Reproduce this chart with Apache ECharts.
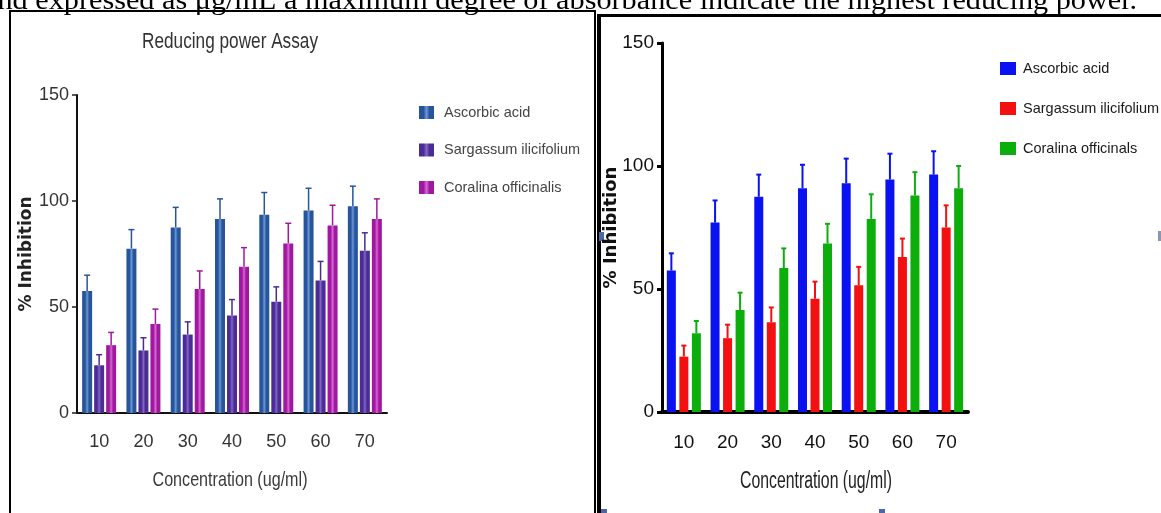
<!DOCTYPE html>
<html><head><meta charset="utf-8">
<script src="https://cdn.jsdelivr.net/npm/echarts@6/dist/echarts.min.js"></script>
<style>html,body{margin:0;padding:0;background:#fff;overflow:hidden}#c{width:1161px;height:513px}</style>
</head><body><div id="c"></div>
<script>
// ---- data ----
const categories = ['10', '20', '30', '40', '50', '60', '70'];
const yTicks = [0, 50, 100, 150];
const titleLeft = 'Reducing power Assay';
const xName = 'Concentration (ug/ml)';
const yName = '% Inhibition';
const legendLeft = ['Ascorbic acid', 'Sargassum ilicifolium', 'Coralina officinalis'];
const legendRight = ['Ascorbic acid', 'Sargassum ilicifolium', 'Coralina officinals'];
const topText = 'and expressed as \u03bcg/mL a maximum degree of absorbance indicate the highest reducing power.';

// left panel
const ascorbicL = [57.5, 77.5, 87.5, 91.5, 93.5, 95.5, 97.5];
const ascorbicErrL = [7.5, 9, 9.5, 9.5, 10.5, 10.5, 9.5];
const sargassumL = [22.5, 29.5, 37, 46, 52.5, 62.5, 76.5];
const sargassumErrL = [5, 6, 6, 7.5, 7, 9, 8.5];
const coralinaL = [32, 42, 58.5, 69, 80, 88.5, 91.5];
const coralinaErrL = [6, 7, 8.5, 9, 9.5, 9.5, 9.5];
// right panel
const ascorbicR = [57.5, 77, 87.5, 91, 93, 94.5, 96.5];
const ascorbicErrR = [7, 9, 9, 9.5, 10, 10.5, 9.5];
const sargassumR = [22.5, 30, 36.5, 46, 51.5, 63, 75];
const sargassumErrR = [4.5, 5.5, 6, 7, 7.5, 7.5, 9];
const coralinaR = [32, 41.5, 58.5, 68.5, 78.5, 88, 91];
const coralinaErrR = [5, 7, 8, 8, 10, 9.5, 9];

// ---- styles ----
const SANS = "'Liberation Sans', Arial, sans-serif";
const mctx = document.createElement('canvas').getContext('2d');
function fitScale(text, font, target) { mctx.font = font; return target / mctx.measureText(text).width; }

const grad = (d, l) => new echarts.graphic.LinearGradient(0, 0, 1, 0, [
  {offset: 0, color: d}, {offset: 0.3, color: d}, {offset: 0.5, color: l}, {offset: 0.7, color: d}, {offset: 1, color: d}]);
const leftColors = [['#27549a', '#6a98d4'], ['#4b2b96', '#8466c4'], ['#a0189f', '#d468d2']];
const rightColors = ['#0a12f2', '#f21010', '#0cae0c'];

function errRender(offset, color, lw, capW) {
  return function (params, api) {
    const x = api.value(0), v = api.value(1), e = api.value(2);
    const base = api.coord([x, v]);
    const top = api.coord([x, v + e]);
    const cx = base[0] + offset;
    return {type: 'group', children: [
      {type: 'line', shape: {x1: cx, y1: base[1], x2: cx, y2: top[1]}, style: {stroke: color, lineWidth: lw}},
      {type: 'line', shape: {x1: cx - capW / 2, y1: top[1], x2: cx + capW / 2, y2: top[1]}, style: {stroke: color, lineWidth: lw}}
    ]};
  };
}
const errData = (vals, errs) => vals.map((v, i) => [i, v, errs[i]]);

const leftVals = [[ascorbicL, ascorbicErrL], [sargassumL, sargassumErrL], [coralinaL, coralinaErrL]];
const rightVals = [[ascorbicR, ascorbicErrR], [sargassumR, sargassumErrR], [coralinaR, coralinaErrR]];
const leftOff = [-12, 0, 12];
const rightOff = [-12.5, 0, 12.5];

const series = [];
leftVals.forEach((p, k) => {
  series.push({type: 'bar', name: legendLeft[k], xAxisIndex: 0, yAxisIndex: 0, data: p[0],
    barWidth: 10, barGap: '20%', itemStyle: {color: grad(leftColors[k][0], leftColors[k][1])}, z: 2});
});
leftVals.forEach((p, k) => {
  series.push({type: 'custom', xAxisIndex: 0, yAxisIndex: 0, data: errData(p[0], p[1]),
    encode: {x: 0, y: 1}, renderItem: errRender(leftOff[k], leftColors[k][0], 1.5, 6), z: 3});
});
rightVals.forEach((p, k) => {
  series.push({type: 'bar', name: legendRight[k] + ' ', xAxisIndex: 1, yAxisIndex: 1, data: p[0],
    barWidth: 9, barGap: '39%', itemStyle: {color: rightColors[k]}, z: 2});
});
rightVals.forEach((p, k) => {
  series.push({type: 'custom', xAxisIndex: 1, yAxisIndex: 1, data: errData(p[0], p[1]),
    encode: {x: 0, y: 1}, renderItem: errRender(rightOff[k], rightColors[k], 2, 5), z: 3});
});

const ts = (size, color, extra) => Object.assign({fontFamily: SANS, fontSize: size, color: color}, extra || {});

const fTitle = "22px 'Liberation Sans'";
const fNameL = "21px 'Liberation Sans'";
const fNameR = "23px 'Liberation Sans'";

const chart = echarts.init(document.getElementById('c'), null, {renderer: 'canvas'});
chart.setOption({
  animation: false,
  backgroundColor: '#fff',
  grid: [
    {left: 77, top: 95, width: 310, height: 318},
    {left: 662, top: 43, width: 306, height: 369}
  ],
  xAxis: [
    {gridIndex: 0, type: 'category', data: categories,
      axisLine: {lineStyle: {color: '#111', width: 2}},
      axisTick: {alignWithLabel: true, length: 5, lineStyle: {color: '#222', width: 1.5}},
      axisLabel: ts(18, '#333', {margin: 20})},
    {gridIndex: 1, type: 'category', data: categories,
      axisLine: {lineStyle: {color: '#000', width: 4}},
      axisTick: {alignWithLabel: true, length: 8, lineStyle: {color: '#000', width: 3}},
      axisLabel: ts(19, '#111', {margin: 21})}
  ],
  yAxis: [
    {gridIndex: 0, type: 'value', min: yTicks[0], max: yTicks[yTicks.length - 1], interval: 50,
      axisLine: {show: true, lineStyle: {color: '#111', width: 2}},
      axisTick: {show: true, length: 5, lineStyle: {color: '#222', width: 1.5}},
      splitLine: {show: false},
      axisLabel: ts(18, '#333', {margin: 8}),
      name: yName, nameLocation: 'middle', nameRotate: 90, nameGap: 42, nameMoveOverlap: false,
      nameTextStyle: {fontFamily: "'DejaVu Sans',sans-serif", fontWeight: 'bold', fontSize: 17, color: '#222'}},
    {gridIndex: 1, type: 'value', min: yTicks[0], max: yTicks[yTicks.length - 1], interval: 50,
      axisLine: {show: true, lineStyle: {color: '#000', width: 3}},
      axisTick: {show: true, length: 5, lineStyle: {color: '#000', width: 3}},
      splitLine: {show: false},
      axisLabel: ts(19, '#111', {margin: 8}),
      name: yName, nameLocation: 'middle', nameRotate: 90, nameGap: 42, nameMoveOverlap: false,
      nameTextStyle: {fontFamily: "'DejaVu Sans',sans-serif", fontWeight: 'bold', fontSize: 18, color: '#111'}}
  ],
  legend: [
    {data: legendLeft, orient: 'vertical', left: 414, top: 100, icon: 'rect',
      itemWidth: 15, itemHeight: 13, itemGap: 22.5, selectedMode: false,
      textStyle: ts(14.5, '#444', {padding: [0, 0, 0, 5]})},
    {data: legendRight.map(n => n + ' '), orient: 'vertical', left: 995, top: 56, icon: 'rect',
      itemWidth: 16, itemHeight: 13, itemGap: 25, selectedMode: false,
      formatter: n => n.trim(),
      textStyle: ts(14.5, '#1a1a1a', {padding: [0, 0, 0, 2]})}
  ],
  series: series,
  graphic: [
    {type: 'text', x: -16, y: 2, scaleX: 1.12, silent: true,
      style: {text: topText, font: "27px 'Liberation Serif', serif", fill: '#000', verticalAlign: 'middle'}},
    // title and axis titles (horizontally condensed to match the narrow face)
    {type: 'text', x: 230, y: 42, scaleX: fitScale(titleLeft, fTitle, 176), silent: true,
      style: {text: titleLeft, font: fTitle, fill: '#333', align: 'center', verticalAlign: 'middle'}},
    {type: 'text', x: 230, y: 480, scaleX: fitScale(xName, fNameL, 155), silent: true,
      style: {text: xName, font: fNameL, fill: '#3a3a3a', align: 'center', verticalAlign: 'middle'}},
    {type: 'text', x: 816, y: 482, scaleX: fitScale(xName, fNameR, 152), silent: true,
      style: {text: xName, font: fNameR, fill: '#222', align: 'center', verticalAlign: 'middle'}},
    // left box
    {type: 'rect', shape: {x: 9, y: 10, width: 2, height: 510}, style: {fill: '#000'}},
    {type: 'rect', shape: {x: 9, y: 10, width: 587, height: 2}, style: {fill: '#000'}},
    {type: 'rect', shape: {x: 594, y: 10, width: 2, height: 510}, style: {fill: '#000'}},
    // right box
    {type: 'rect', shape: {x: 597, y: 14, width: 570, height: 3}, style: {fill: '#000'}},
    {type: 'rect', shape: {x: 597, y: 14, width: 4, height: 510}, style: {fill: '#000'}},
    // small marks
    {type: 'rect', shape: {x: 599, y: 232, width: 5, height: 9}, style: {fill: '#4a68a6'}},
    {type: 'rect', shape: {x: 601, y: 509, width: 6, height: 4}, style: {fill: '#4a68a6'}},
    {type: 'rect', shape: {x: 879, y: 509, width: 6, height: 4}, style: {fill: '#4a68a6'}},
    {type: 'rect', shape: {x: 1158, y: 231, width: 3, height: 10}, style: {fill: '#8a96b4'}}
  ]
});
</script>
</body></html>
